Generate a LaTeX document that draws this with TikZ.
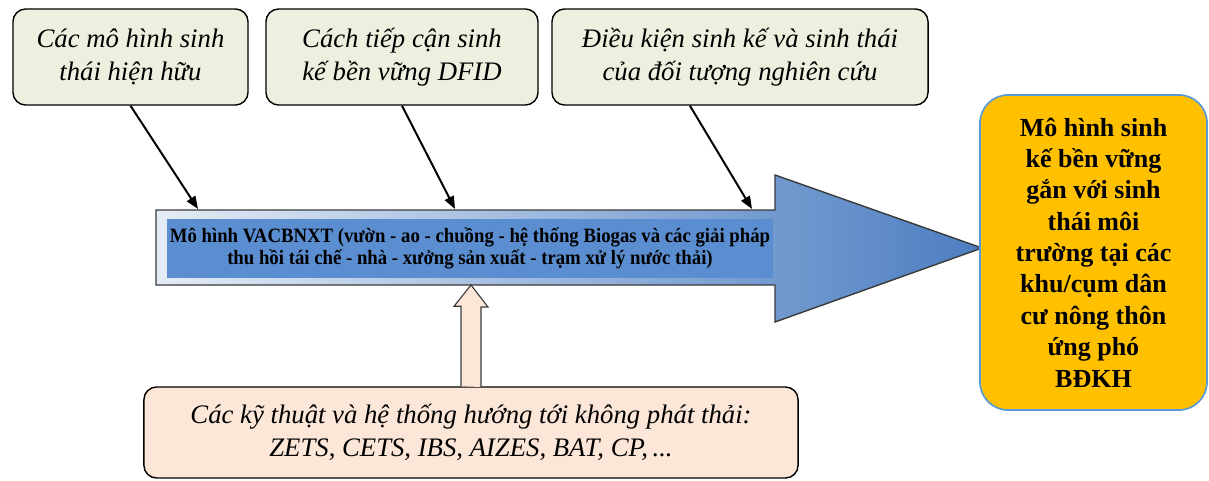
\documentclass[tikz,border=0pt]{standalone}
\usepackage{fontspec}
\setmainfont{Liberation Serif}
\usetikzlibrary{arrows.meta}
\definecolor{sagebox}{HTML}{EBF1DE}
\definecolor{peachbox}{HTML}{FCE6D8}
\definecolor{goalgold}{HTML}{FFC000}
\definecolor{goalline}{HTML}{5B9BD5}
\definecolor{vacblue}{HTML}{5B8ED0}
\definecolor{arrowlight}{HTML}{E4ECF6}
\definecolor{arrowdark}{HTML}{4C7EC2}
\definecolor{arrowline}{HTML}{3A3A3A}
\begin{document}
\begin{tikzpicture}[x=0.025cm, y=-0.025cm,
    inbox/.style={draw=black, line width=1pt, rounded corners=9pt, fill=sagebox,
      align=center, inner sep=0pt, font=\fontsize{19}{23}\selectfont\itshape},
    feed/.style={line width=1.4pt, -{Triangle[length=9pt,width=7pt]}}]
  \useasboundingbox (0,0) rectangle (1209,480);

  % input boxes
  \node[inbox, minimum width=5.875cm, minimum height=2.4cm] (models) at (130.5,57)
    {Các mô hình sinh\\thái hiện hữu};
  \node[inbox, minimum width=6.8cm, minimum height=2.4cm] (dfid) at (402,57)
    {Cách tiếp cận sinh\\kế bền vững DFID};
  \node[inbox, minimum width=9.4cm, minimum height=2.4cm] (cond) at (740,57)
    {Điều kiện sinh kế và sinh thái\\của đối tượng nghiên cứu};

  % main arrow
  \path[draw=arrowline, line width=1pt, left color=arrowlight, right color=arrowdark]
    (156,210) -- (775,210) -- (775,175) -- (982,248) -- (775,322) -- (775,285)
    -- (156,285) -- cycle;
  \node[fill=vacblue, minimum width=15.15cm, minimum height=1.475cm, inner sep=0pt,
    align=center, font=\bfseries\fontsize{14.5}{15.5}\selectfont\addfontfeature{FakeStretch=0.92}]
    (vac) at (470,248.5)
    {Mô hình VACBNXT (vườn - ao - chuồng - hệ thống Biogas và các giải pháp\\
     thu hồi tái chế - nhà - xưởng sản xuất - trạm xử lý nước thải)};
  \coordinate (t1) at (198,209);
  \coordinate (t2) at (455,209);
  \coordinate (t3) at (752,209);
  \coordinate (sb) at (471,285);

  \draw[feed] (models.south) -- (t1);
  \draw[feed] (dfid.south) -- (t2);
  \draw[feed] ([xshift=-35.6pt]cond.south) -- (t3);

  % zero emission box
  \node[inbox, fill=peachbox, minimum width=16.35cm, minimum height=2.275cm] (zero)
    at (471,432.5)
    {Các kỹ thuật và hệ thống hướng tới không phát thải:\\ZETS, CETS, IBS, AIZES, BAT, CP,\,...};
  \draw[fill=peachbox, line width=0.8pt, draw=arrowline] (zero.north) ++(-10,0) -- ++(0,-80)
    -- ++(-7,0) -- (sb) -- ++(17,22) -- ++(-7,0) -- ++(0,80);

  % result
  \node[draw=goalline, line width=1.2pt, fill=goalgold, rounded corners=20pt,
    minimum width=5.675cm, minimum height=7.875cm, inner sep=0pt, align=center,
    font=\bfseries\fontsize{18.5}{22.3}\selectfont] (goal) at (1093.5,252.5)
    {Mô hình sinh\\kế bền vững\\gắn với sinh\\thái môi\\trường tại các\\khu/cụm dân\\cư nông thôn\\ứng phó\\BĐKH};
\end{tikzpicture}
\end{document}
